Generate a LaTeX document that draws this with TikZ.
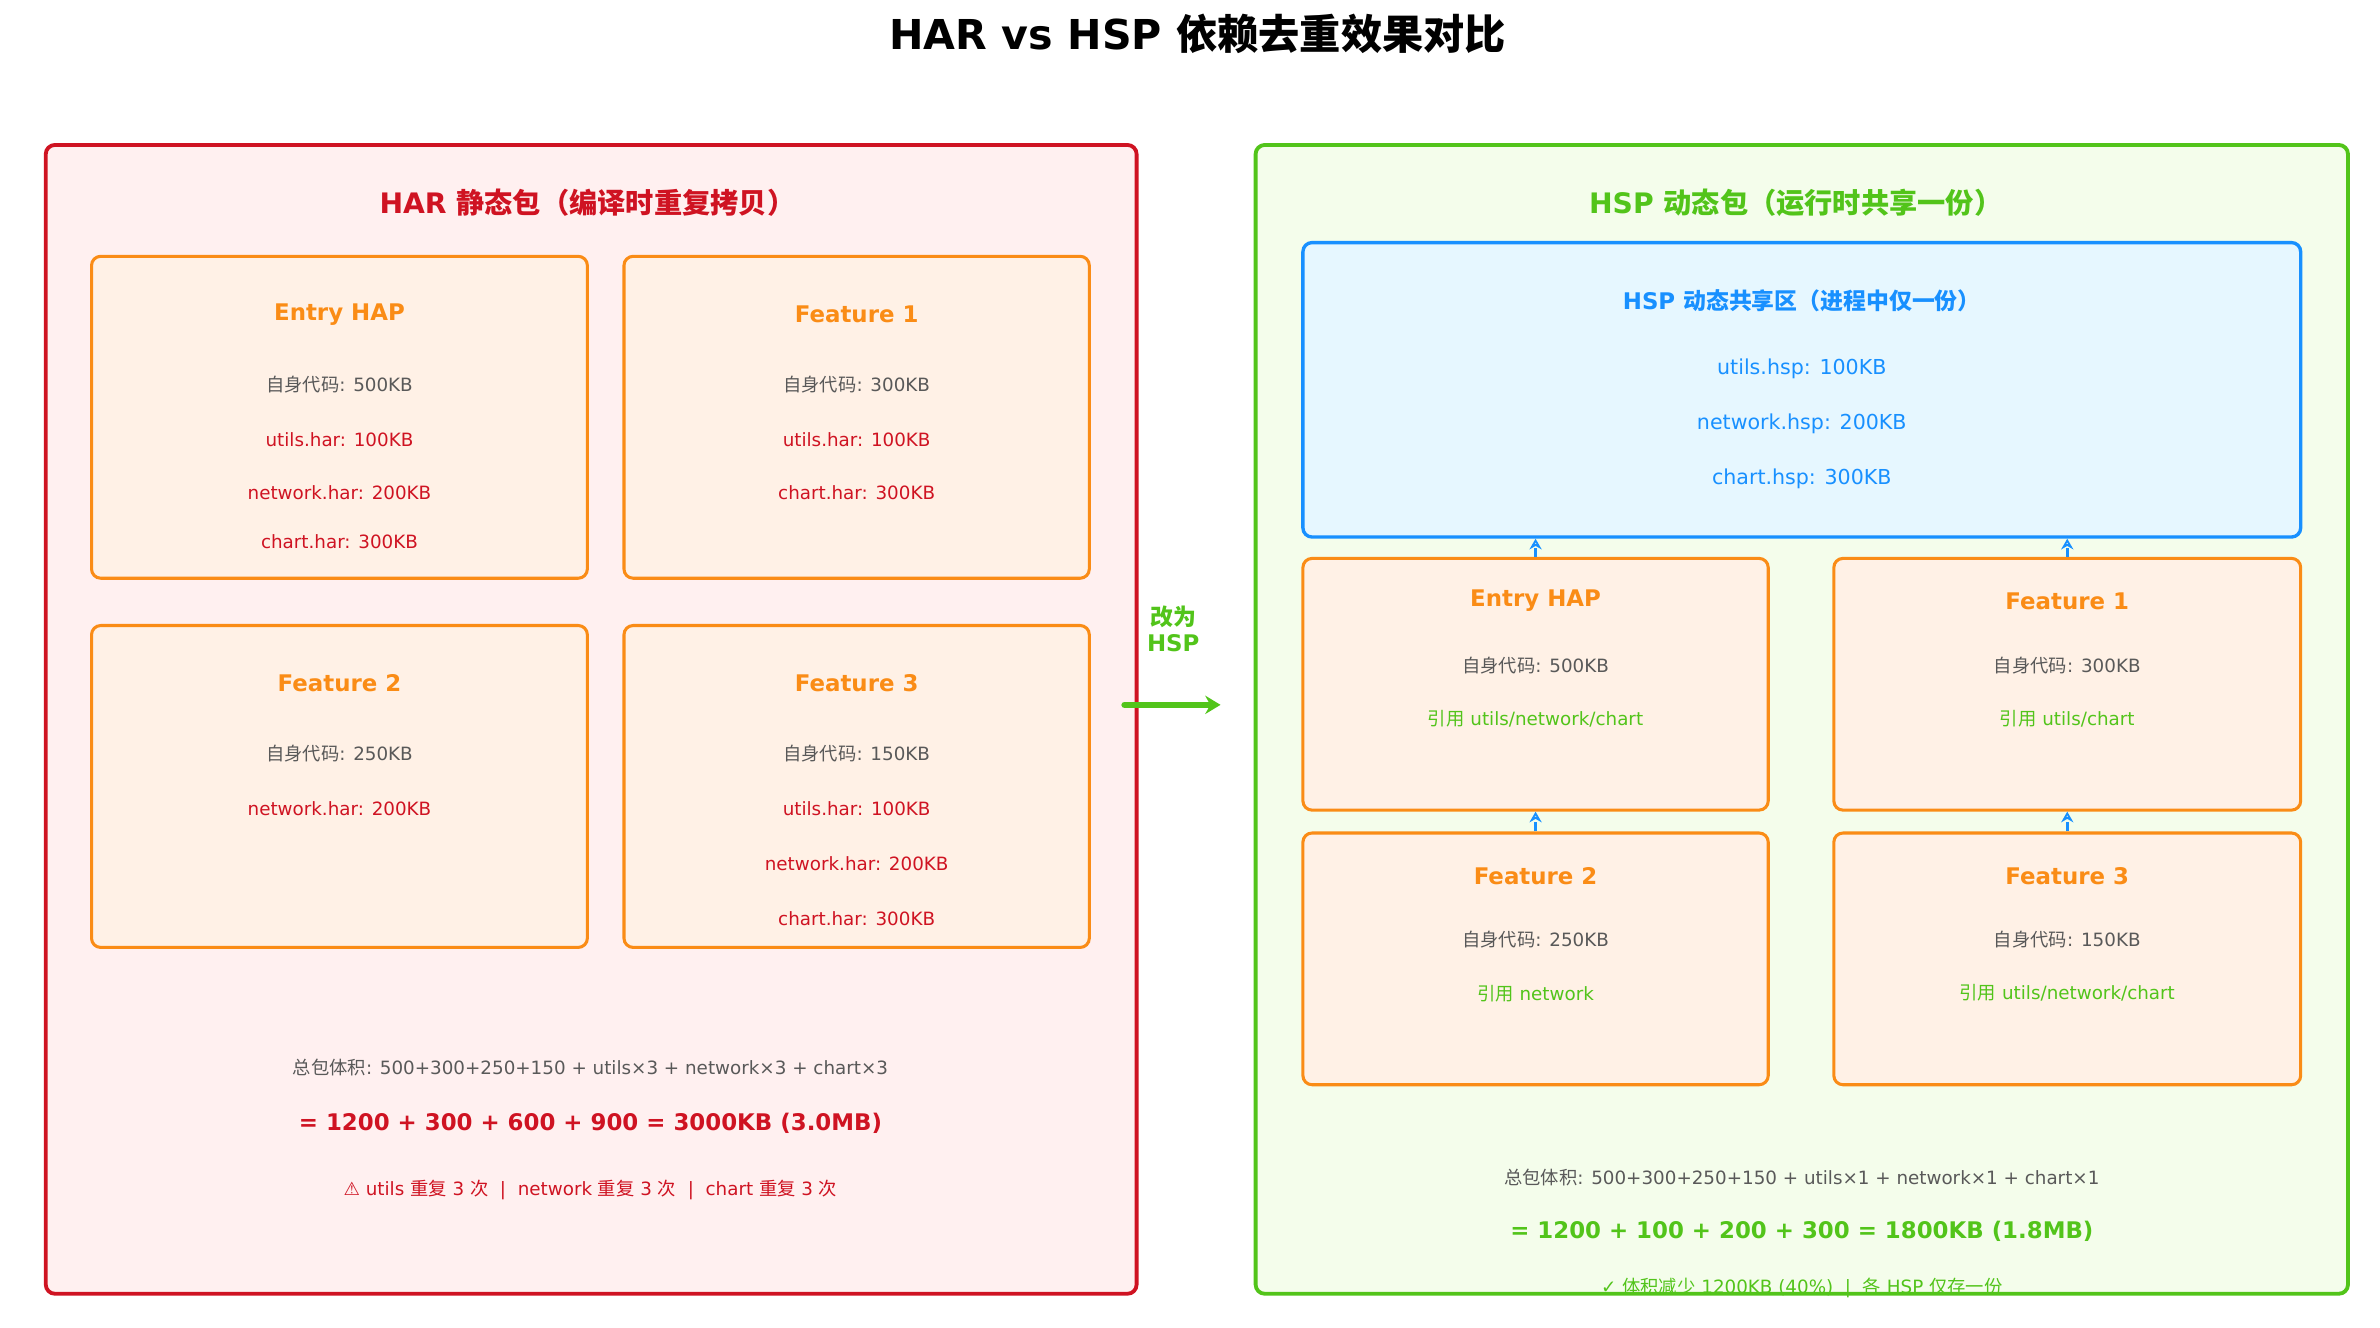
\documentclass[tikz,border=0pt]{standalone}
\usepackage{fontspec}
\setmainfont{DejaVu Sans}
\newfontfamily\cjk{Noto Sans CJK SC}
\usetikzlibrary{arrows.meta}
\definecolor{harred}{HTML}{CF1322}
\definecolor{harbg}{HTML}{FFF0F0}
\definecolor{hspgreen}{HTML}{52C41A}
\definecolor{hspbg}{HTML}{F4FDEB}
\definecolor{modorange}{HTML}{FA8C16}
\definecolor{modbg}{HTML}{FFF1E6}
\definecolor{shareblue}{HTML}{1890FF}
\definecolor{sharebg}{HTML}{E6F7FF}
\definecolor{txtgray}{HTML}{595959}
\begin{document}
\begin{tikzpicture}[
    x=1pt, y=-1pt,
    % Define styles
    panel/.style={
        rectangle,
        draw,
        line width=2.5pt,
        rounded corners=6pt
    },
    module/.style={
        rectangle,
        draw=modorange,
        fill=modbg,
        line width=2pt,
        rounded corners=6pt
    },
    modtitle/.style={
        text=modorange,
        font=\fontsize{15}{18}\selectfont\bfseries
    },
    line/.style={
        text=txtgray,
        font=\fontsize{12}{14}\selectfont
    },
    harline/.style={
        line,
        text=harred
    },
    refline/.style={
        line,
        text=hspgreen
    },
    shareline/.style={
        text=shareblue,
        font=\fontsize{13.5}{16}\selectfont
    },
    dep/.style={
        -{Stealth[length=7pt,width=8pt,open]},
        draw=shareblue,
        line width=1.8pt,
        dash pattern=on 6pt off 3pt
    }
]
\useasboundingbox (0,0) rectangle (1560,870);

% Title
\node[font=\fontsize{27}{32}\selectfont\bfseries] (title) at (785,22) {HAR vs HSP {\cjk 依赖去重效果对比}};

% Left panel: HAR
\node[panel, draw=harred, fill=harbg, minimum width=715pt, minimum height=753pt] (har) at (387.5,471.5) {};
\node[text=harred, font=\fontsize{18.5}{22}\selectfont\bfseries] (hartitle) at (385,133) {HAR {\cjk 静态包（编译时重复拷贝）}};

\node[module, minimum width=325pt, minimum height=211pt] (h1) at (222.5,273.5) {};
\node[modtitle] (h1t) at (222.5,206) {Entry HAP};
\node[line] (h1a) at (222.5,252) {{\cjk 自身代码}: 500KB};
\node[harline] (h1b) at (222.5,288) {utils.har: 100KB};
\node[harline] (h1c) at (222.5,323) {network.har: 200KB};
\node[harline] (h1d) at (222.5,355) {chart.har: 300KB};

\node[module, minimum width=305pt, minimum height=211pt] (h2) at (561.5,273.5) {};
\node[modtitle] (h2t) at (561.5,206) {Feature 1};
\node[line] (h2a) at (561.5,252) {{\cjk 自身代码}: 300KB};
\node[harline] (h2b) at (561.5,288) {utils.har: 100KB};
\node[harline] (h2c) at (561.5,323) {chart.har: 300KB};

\node[module, minimum width=325pt, minimum height=211pt] (h3) at (222.5,515.5) {};
\node[modtitle] (h3t) at (222.5,448) {Feature 2};
\node[line] (h3a) at (222.5,494) {{\cjk 自身代码}: 250KB};
\node[harline] (h3b) at (222.5,530) {network.har: 200KB};

\node[module, minimum width=305pt, minimum height=211pt] (h4) at (561.5,515.5) {};
\node[modtitle] (h4t) at (561.5,448) {Feature 3};
\node[line] (h4a) at (561.5,494) {{\cjk 自身代码}: 150KB};
\node[harline] (h4b) at (561.5,530) {utils.har: 100KB};
\node[harline] (h4c) at (561.5,566) {network.har: 200KB};
\node[harline] (h4d) at (561.5,602) {chart.har: 300KB};

\node[line] (harsum) at (387,700) {{\cjk 总包体积}: 500+300+250+150 + utils×3 + network×3 + chart×3};
\node[text=harred, font=\fontsize{15}{18}\selectfont\bfseries] (hartotal) at (387,736) {= 1200 + 300 + 600 + 900 = 3000KB (3.0MB)};
\node[harline] (harnote) at (387,780) {⚠ utils {\cjk 重复} 3 {\cjk 次}\ \ |\ \ network {\cjk 重复} 3 {\cjk 次}\ \ |\ \ chart {\cjk 重复} 3 {\cjk 次}};

% Change arrow
\coordinate (ca) at (737,462);
\coordinate (cb) at (800,462);
\draw[-{Stealth[length=10pt,width=12pt]}, draw=hspgreen, line width=4pt, line cap=round] (ca) -- (cb);
\node[text=hspgreen, align=center, font=\fontsize{15}{17}\selectfont\bfseries] (change) at (769,412) {{\cjk 改为}\\HSP};

% Right panel: HSP
\node[panel, draw=hspgreen, fill=hspbg, minimum width=716pt, minimum height=753pt] (hsp) at (1181,471.5) {};
\node[text=hspgreen, font=\fontsize{18.5}{22}\selectfont\bfseries] (hsptitle) at (1177,133) {HSP {\cjk 动态包（运行时共享一份）}};

\node[panel, draw=shareblue, fill=sharebg, line width=2.2pt, minimum width=654pt, minimum height=193pt] (shared) at (1181,255.5) {};
\node[text=shareblue, font=\fontsize{15}{18}\selectfont\bfseries] (sharedt) at (1181,197) {HSP {\cjk 动态共享区（进程中仅一份）}};
\node[shareline] (s1) at (1181,242) {utils.hsp: 100KB};
\node[shareline] (s2) at (1181,278) {network.hsp: 200KB};
\node[shareline] (s3) at (1181,314) {chart.hsp: 300KB};

\node[module, minimum width=305pt, minimum height=165pt] (e1) at (1006.5,448.5) {};
\node[modtitle] (e1t) at (1006.5,394) {Entry HAP};
\node[line] (e1a) at (1006.5,436) {{\cjk 自身代码}: 500KB};
\node[refline] (e1b) at (1006.5,471) {{\cjk 引用} utils/network/chart};

\node[module, minimum width=306pt, minimum height=165pt] (e2) at (1355,448.5) {};
\node[modtitle] (e2t) at (1355,394) {Feature 1};
\node[line] (e2a) at (1355,436) {{\cjk 自身代码}: 300KB};
\node[refline] (e2b) at (1355,471) {{\cjk 引用} utils/chart};

\node[module, minimum width=305pt, minimum height=165pt] (e3) at (1006.5,628.5) {};
\node[modtitle] (e3t) at (1006.5,574) {Feature 2};
\node[line] (e3a) at (1006.5,616) {{\cjk 自身代码}: 250KB};
\node[refline] (e3b) at (1006.5,651) {{\cjk 引用} network};

\node[module, minimum width=306pt, minimum height=165pt] (e4) at (1355,628.5) {};
\node[modtitle] (e4t) at (1355,574) {Feature 3};
\node[line] (e4a) at (1355,616) {{\cjk 自身代码}: 150KB};
\node[refline] (e4b) at (1355,651) {{\cjk 引用} utils/network/chart};

% Dependency arrows
\draw[dep] (e1.north) -- (e1.north |- shared.south);
\draw[dep] (e2.north) -- (e2.north |- shared.south);
\draw[dep] (e3.north) -- (e1.south);
\draw[dep] (e4.north) -- (e2.south);

\node[line] (hspsum) at (1181,772) {{\cjk 总包体积}: 500+300+250+150 + utils×1 + network×1 + chart×1};
\node[text=hspgreen, font=\fontsize{15}{18}\selectfont\bfseries] (hsptotal) at (1181,807) {= 1200 + 100 + 200 + 300 = 1800KB (1.8MB)};
\node[refline] (hspnote) at (1181,844) {✓ {\cjk 体积减少} 1200KB (40\%)\ \ |\ \ {\cjk 各} HSP {\cjk 仅存一份}};
\end{tikzpicture}
\end{document}
